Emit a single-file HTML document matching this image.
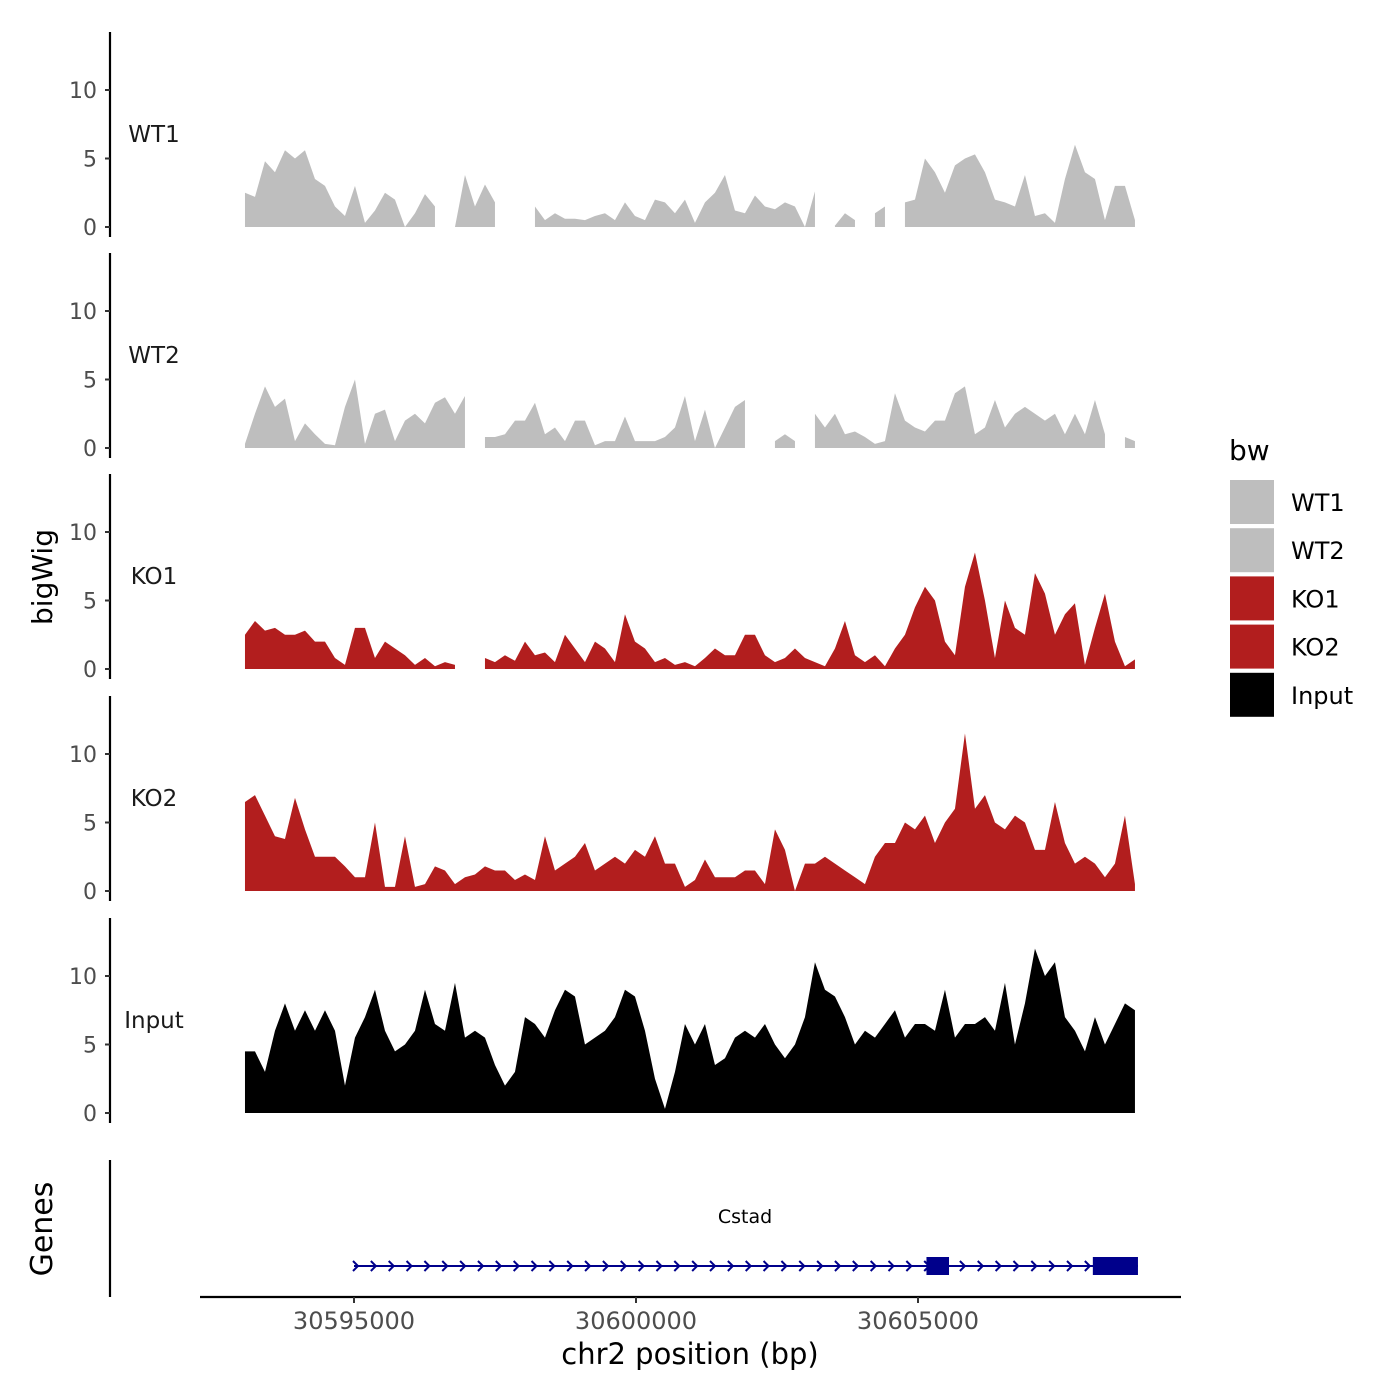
<!DOCTYPE html>
<html><head><meta charset="utf-8"><style>
body{margin:0;background:#fff}
svg{display:block;font-family:"DejaVu Sans","Liberation Sans",sans-serif}
</style></head><body>
<svg id="chart" width="1400" height="1400" viewBox="0 0 1400 1400">
<g id="tracks"></g>
<g id="genes"></g>
<text x="52" y="577" font-size="28" transform="rotate(-90 52 577)" text-anchor="middle">bigWig</text>
<text x="52" y="1229" font-size="30" transform="rotate(-90 52 1229)" text-anchor="middle">Genes</text>
<text x="690" y="1364" font-size="29" text-anchor="middle">chr2 position (bp)</text>
<g id="legend"></g>
</svg>
<script>
const trackNames = ["WT1","WT2","KO1","KO2","Input"];
const trackColors = ["#bebebe","#bebebe","#b21e1e","#b21e1e","#000000"];
const binStart = 30593067;
const binStep = 177.3;
const wt1 = [2.5,2.2,4.8,4.0,5.6,5.0,5.6,3.5,3.0,1.5,0.8,3.0,0.3,1.2,2.5,2.0,0,1.0,2.4,1.5,null,0,3.8,1.5,3.1,1.8,null,null,null,1.5,0.5,1.0,0.6,0.6,0.5,0.8,1.0,0.5,1.8,0.8,0.5,2.0,1.8,1.0,2.0,0.3,1.8,2.5,3.8,1.2,1.0,2.3,1.5,1.3,1.8,1.5,0,2.6,null,0.1,1.0,0.5,null,1.0,1.5,null,1.8,2.0,5.0,4.0,2.5,4.5,5.0,5.3,4.0,2.0,1.8,1.5,3.8,0.8,1.0,0.3,3.5,6.0,4.0,3.5,0.5,3.0,3.0,0.5];
const wt2 = [0.3,2.5,4.5,3.0,3.6,0.5,1.8,1.0,0.3,0.2,3.0,5.0,0.3,2.5,2.8,0.5,2.0,2.5,1.8,3.3,3.7,2.5,3.8,null,0.8,0.8,1.0,2.0,2.0,3.3,1.0,1.5,0.5,2.0,2.0,0.2,0.5,0.5,2.3,0.5,0.5,0.5,0.8,1.5,3.8,0.5,2.8,0,1.5,3.0,3.5,null,null,0.5,1.0,0.5,null,2.5,1.5,2.5,1.0,1.2,0.8,0.3,0.5,4.0,2.0,1.5,1.2,2.0,2.0,4.0,4.5,1.0,1.5,3.5,1.5,2.5,3.0,2.5,2.0,2.5,1.0,2.5,1.0,3.5,1.0,null,0.8,0.5];
const ko1 = [2.5,3.5,2.8,3.0,2.5,2.5,2.8,2.0,2.0,0.8,0.3,3.0,3.0,0.8,2.0,1.5,1.0,0.3,0.8,0.2,0.5,0.3,null,null,0.8,0.5,1.0,0.6,2.0,1.0,1.2,0.5,2.5,1.5,0.5,2.0,1.5,0.5,4.0,2.0,1.5,0.5,0.8,0.3,0.5,0.2,0.8,1.5,1.0,1.0,2.5,2.5,1.0,0.5,0.8,1.5,0.8,0.5,0.2,1.5,3.5,1.0,0.5,1.0,0.2,1.5,2.5,4.5,6.0,5.0,2.0,1.0,6.0,8.5,5.0,0.8,5.0,3.0,2.5,7.0,5.5,2.5,4.0,4.8,0.3,3.0,5.5,2.0,0.2,0.7];
const ko2 = [6.5,7.0,5.5,4.0,3.8,6.8,4.5,2.5,2.5,2.5,1.8,1.0,1.0,5.0,0.3,0.3,4.0,0.3,0.5,1.8,1.5,0.5,1.0,1.2,1.8,1.5,1.5,0.8,1.2,0.8,4.0,1.5,2.0,2.5,3.5,1.5,2.0,2.5,2.0,3.0,2.5,4.0,2.0,2.0,0.3,0.8,2.3,1.0,1.0,1.0,1.5,1.5,0.5,4.5,3.0,0,2.0,2.0,2.5,2.0,1.5,1.0,0.5,2.5,3.5,3.5,5.0,4.5,5.5,3.5,5.0,6.0,11.5,6.0,7.0,5.0,4.5,5.5,5.0,3.0,3.0,6.5,3.5,2.0,2.5,2.0,1.0,2.0,5.5,0.5];
const inputV = [4.5,4.5,3.0,6.0,8.0,6.0,7.5,6.0,7.5,6.0,2.0,5.5,7.0,9.0,6.0,4.5,5.0,6.0,9.0,6.5,6.0,9.5,5.5,6.0,5.5,3.5,2.0,3.0,7.0,6.5,5.5,7.5,9.0,8.5,5.0,5.5,6.0,7.0,9.0,8.5,6.0,2.5,0.3,3.0,6.5,5.0,6.5,3.5,4.0,5.5,6.0,5.5,6.5,5.0,4.0,5.0,7.0,11.0,9.0,8.5,7.0,5.0,6.0,5.5,6.5,7.5,5.5,6.5,6.5,6.0,9.0,5.5,6.5,6.5,7.0,6.0,9.5,5.0,8.0,12.0,10.0,11.0,7.0,6.0,4.5,7.0,5.0,6.5,8.0,7.5];
const seriesValues = [wt1,wt2,ko1,ko2,inputV];
const yTicks = [0,5,10];
const xTicks = [30595000,30600000,30605000];
const geneStart = 30595000;
const geneEnd = 30608900;
const exons = [[30605150,30605550],[30608100,30608900]];
const legendLabels = ["WT1","WT2","KO1","KO2","Input"];

const NS="http://www.w3.org/2000/svg";
function mk(tag, attrs, parent){const e=document.createElementNS(NS,tag);for(const k in attrs)e.setAttribute(k,attrs[k]);parent.appendChild(e);return e;}
const xScale = bp => 354 + (bp-30595000)*0.0564;
const zeroY = [227,448,669,891,1113];
const yScale = (t,v) => zeroY[t] - v*13.7;

const tg=document.getElementById('tracks');
trackNames.forEach((name,t)=>{
  const vals=seriesValues[t];
  let seg=[];
  const flush=()=>{
    if(seg.length>0){
      let d=`M${seg[0][0]},${zeroY[t]}`;
      seg.forEach(p=>d+=` L${p[0]},${p[1]}`);
      d+=` L${seg[seg.length-1][0]},${zeroY[t]} Z`;
      const p=mk('path',{d:d,fill:trackColors[t]},tg);
      
      
    }
    seg=[];
  };
  vals.forEach((v,i)=>{
    if(v===null){flush();return;}
    seg.push([xScale(binStart+i*binStep),yScale(t,v)]);
  });
  flush();
  const top=zeroY[t]-195, bot=zeroY[t]+10;
  const ax=mk('line',{x1:110,x2:110,y1:top,y2:bot,stroke:'#000','stroke-width':2.2},tg);
  
  
  yTicks.forEach(v=>{
    const y=yScale(t,v);
    mk('line',{x1:105,x2:110,y1:y,y2:y,stroke:'#333','stroke-width':2},tg);
    const tx=mk('text',{x:97,y:y+8,'font-size':22,fill:'#4d4d4d','text-anchor':'end'},tg);
    tx.textContent=v;
    
    
  });
  const lb=mk('text',{x:154,y:zeroY[t]-85,'font-size':23,fill:'#1a1a1a','text-anchor':'middle'},tg);
  lb.textContent=name;
  
  
});

const gg=document.getElementById('genes');
const gax=mk('line',{x1:110,x2:110,y1:1160,y2:1297,stroke:'#000','stroke-width':2.2},gg);


const xax=mk('line',{x1:200,x2:1181,y1:1297,y2:1297,stroke:'#000','stroke-width':2.2},gg);


xTicks.forEach(v=>{
  const x=xScale(v);
  mk('line',{x1:x,x2:x,y1:1297,y2:1303,stroke:'#333','stroke-width':2},gg);
  const tx=mk('text',{x:x,y:1329,'font-size':24,fill:'#4d4d4d','text-anchor':'middle'},gg);
  tx.textContent=v;
  
  
});
const gy=1266, gx1=xScale(geneStart), gx2=xScale(geneEnd);
const gl=mk('line',{x1:gx1,x2:gx2,y1:gy,y2:gy,stroke:'#00008b','stroke-width':2},gg);


for(let x=gx1+2;x<gx2-4;x+=17.85){
  mk('path',{d:`M${x-3},${gy-5} L${x+2},${gy} L${x-3},${gy+5}`,fill:'none',stroke:'#00008b','stroke-width':2},gg);
}
exons.forEach(e=>{
  const r=mk('rect',{x:xScale(e[0]),y:gy-9,width:xScale(e[1])-xScale(e[0]),height:18,fill:'#00008b'},gg);
  
  
});
const gt=mk('text',{x:745,y:1223,'font-size':19,fill:'#000','text-anchor':'middle'},gg);
gt.textContent='Cstad';



const lg=document.getElementById('legend');
const lt=mk('text',{x:1229,y:460,'font-size':28,fill:'#000'},lg);
lt.textContent='bw';


legendLabels.forEach((l,i)=>{
  const y=480+i*48.2;
  const r=mk('rect',{x:1230,y:y,width:44,height:44,fill:trackColors[i]},lg);
  
  
  const t=mk('text',{x:1291,y:y+31,'font-size':24,fill:'#000'},lg);
  t.textContent=l;
  
  
});
</script>
</body></html>
